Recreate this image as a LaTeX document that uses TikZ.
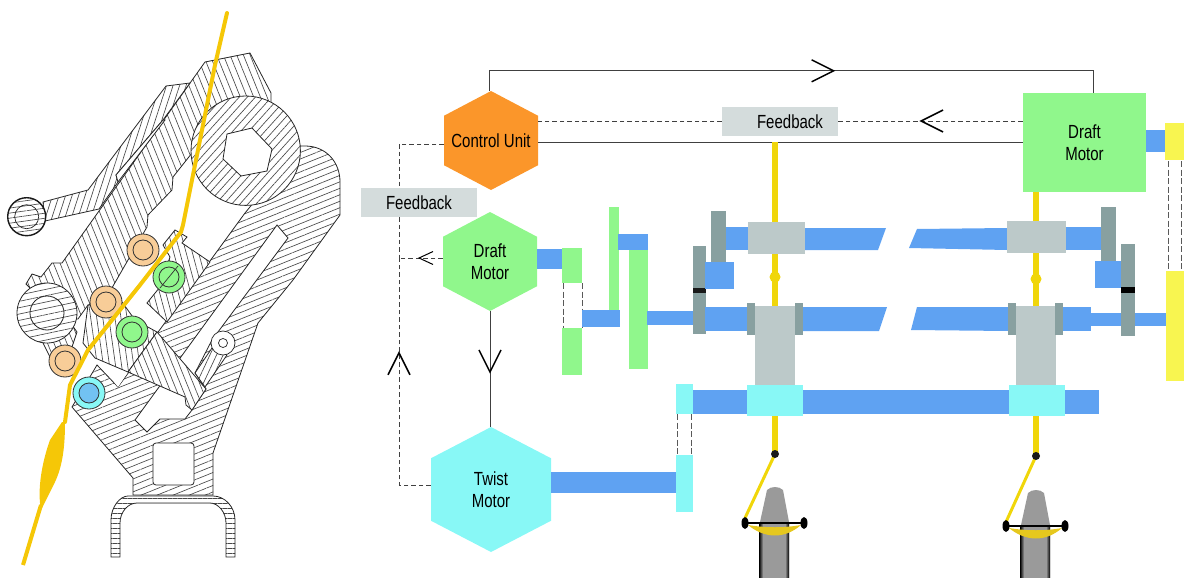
\documentclass[tikz,border=0pt]{standalone}
\usepackage{fontspec}
\setmainfont{Liberation Sans}[FakeStretch=0.79]
\usetikzlibrary{calc,arrows.meta,patterns.meta,decorations.markings}

\definecolor{shaftblue}{HTML}{5FA2F2}
\definecolor{geargreen}{HTML}{90F78C}
\definecolor{twistcyan}{HTML}{88F8F6}
\definecolor{gearteal}{HTML}{88A0A0}
\definecolor{boxgray}{HTML}{BCC9C9}
\definecolor{labelgray}{HTML}{D4DCDC}
\definecolor{unitorange}{HTML}{FB962A}
\definecolor{rollyellow}{HTML}{F8F550}
\definecolor{yarnyellow}{HTML}{F0D60A}
\definecolor{sliveryarn}{HTML}{F5C707}
\definecolor{rollorange}{HTML}{F8CD98}
\definecolor{rollblue}{HTML}{72C2F2}
\definecolor{spindlegray}{HTML}{9A9A9A}
\definecolor{crescent}{HTML}{E6C81E}

\tikzset{
  hexnode/.style={minimum width=#1, inner sep=0pt, align=center, font=\fontsize{19}{21.5}\selectfont},
  hexfill/.style={path picture={\fill[#1]
    (path picture bounding box.north)
    -- ($(path picture bounding box.north east)!0.25!(path picture bounding box.south east)$)
    -- ($(path picture bounding box.north east)!0.75!(path picture bounding box.south east)$)
    -- (path picture bounding box.south)
    -- ($(path picture bounding box.north west)!0.75!(path picture bounding box.south west)$)
    -- ($(path picture bounding box.north west)!0.25!(path picture bounding box.south west)$)
    -- cycle;}},
  feedbox/.style={fill=labelgray, minimum width=116pt, minimum height=29pt, inner sep=0pt, font=\fontsize{19}{21.5}\selectfont},
  wire/.style={draw=black!75, line width=0.9pt},
  dashwire/.style={wire, dash pattern=on 4.5pt off 3pt},
  linkdash/.style={draw=black!65, line width=1pt, dash pattern=on 6pt off 2.5pt},
  bigbarb/.style={postaction={decorate, decoration={markings,
    mark=at position #1 with {\arrow[black]{Straight Barb[length=22pt,width=22pt,line width=1.5pt]}}}}},
  smallbarb/.style={postaction={decorate, decoration={markings,
    mark=at position #1 with {\arrow[black]{Straight Barb[length=14pt,width=13pt,line width=1pt]}}}}},
  hatchpart/.style n args={2}{preaction={fill=white}, draw=black!85, line width=0.8pt,
    pattern={Lines[angle=#1,distance=#2,line width=0.65pt]}, pattern color=black!72},
  roller/.style={draw=black!80, line width=0.8pt, fill=#1},
  yarn/.style={draw=sliveryarn, line width=4pt, line cap=round, line join=round},
  feedyarn/.style={draw=yarnyellow, line width=6pt}
}

\begin{document}
\begin{tikzpicture}[x=1pt,y=-1pt]
  \useasboundingbox (0,0) rectangle (1184,578);

  % drafting head, cut-away
  \draw[hatchpart={22}{6pt}] (245,213) -- (300,146) -- (305,146) .. controls (326,146) and (340,162) .. (340,182)
    -- (340,215) -- (293,280) -- (258,323) -- (213,453) -- (213,495) -- (133,495) -- (133,478) -- (72,407) -- (97,365)
    -- (118,387) -- cycle;
  \fill[white,draw=black!85,line width=0.8pt] (277,225) -- (288,238) -- (212,340) -- (195,373) -- (206,389) -- (192,410)
    -- (185,419) -- (160,419) -- (147,432) -- (135,420) -- cycle;
  \draw[hatchpart={65}{6pt}] (212,348) -- (195,373) -- (205,387) -- (227,355) -- cycle;
  \draw[fill=white,draw=black!85,line width=0.8pt,rounded corners=3pt] (153,443) rectangle (194,485);
  \draw[hatchpart={0}{5pt}] (111,557) -- (111,520) .. controls (111,507) and (120,496) .. (128,496) -- (213,496)
    .. controls (225,496) and (235,507) .. (235,520) -- (235,557) -- (226,557) -- (226,523)
    .. controls (226,512) and (218,503) .. (210,503) -- (137,503) .. controls (128,503) and (120,512) .. (120,523)
    -- (120,557) -- cycle;
  % main lever and upper arm
  \draw[hatchpart={-68}{6.2pt}] (205,62) -- (250,53) -- (271,93) -- (271,130) -- (192,153) -- (173,177) -- (172,190)
    -- (148,215) -- (147,227) -- (105,300) -- (88,305) -- (78,319) -- (60,320) -- (47,305) -- (26,284) -- (32,274)
    -- (41,277) -- (52,263) -- (62,263) -- cycle;
  \draw[hatchpart={72}{6.2pt}] (43,202) -- (88,190) -- (166,86) -- (190,83) -- (163,120) -- (116,175) -- (118,182)
    -- (99,209) -- (45,221) -- cycle;
  \draw[fill=white,draw=black!85,line width=0.8pt] (116,175) -- (163,120) -- (165,120) -- (118,182) -- cycle;
  % rocking plate
  \fill[white] (100,363) -- (118,387) -- (128,372) -- cycle;
  \draw[hatchpart={-82}{6pt}] (88,305) -- (122,302) -- (135,320) -- (157,332) -- (128,372) -- (95,358) -- (83,343) -- cycle;
  \draw[hatchpart={-68}{6pt}] (157,332) -- (206,389) -- (192,410) -- (186,405) -- (185,397) -- (128,372) -- cycle;
  \draw[hatchpart={-75}{6pt}] (175,230) -- (187,237) -- (182,243) -- (210,262) -- (167,322) -- (147,303) -- (160,287)
    -- (170,257) -- (163,245) -- cycle;
  \draw[hatchpart={-68}{6pt}] (43,343) -- (72,325) -- (77,332) -- (72,347) -- (50,357) -- cycle;

  \draw[hatchpart={48}{6pt}] (245.7,150.7) circle (54.7);
  \draw[fill=white,draw=black!85,line width=0.8pt] (252,128) -- (272,149) -- (267,171) -- (241,176) -- (223,159) -- (227,134) -- cycle;
  \draw[hatchpart={12}{6.2pt}] (47,313) circle (30);
  \draw[draw=black!85,line width=0.8pt] (47,313) circle (17);
  \draw[hatchpart={8}{5pt},line width=1.4pt,draw=black!90] (26.7,216.7) circle (19);
  \draw[draw=black!85,line width=0.7pt] (26.7,216.7) circle (12);
  \draw[fill=white,draw=black!85,line width=0.7pt] (223,343) circle (12);
  \draw[draw=black!85,line width=0.7pt] (223,343) circle (4.5);

  % rollers
  \foreach \rx/\ry in {143/250,106/302,65/361} {
    \draw[roller=rollorange] (\rx,\ry) circle (16);
    \draw[draw=black!80,line width=0.8pt] (\rx,\ry) circle (10);
  }
  \foreach \rx/\ry in {169/277,132/332} {
    \draw[roller=geargreen] (\rx,\ry) circle (16);
    \draw[draw=black!80,line width=0.8pt] (\rx,\ry) circle (10);
  }
  \draw[draw=black!80,line width=0.7pt] (160,288) -- (178,266);
  \draw[roller=twistcyan] (89,393) circle (16);
  \draw[roller=rollblue] (89,393) circle (10);

  % yarn
  \draw[yarn] (227,13) -- (215,65) -- (195,165) -- (183,225) -- (181,232) -- (140,285) -- (88,350) -- (70,385) -- (65,422);
  \draw[yarn, line cap=butt] (41,505) -- (23,565);
  \fill[sliveryarn] (62,422) -- (65,422) .. controls (65,445) and (63,465) .. (55,482) -- (41,510) .. controls (37,490) and (42,462) .. (50,440) -- cycle;

  % motors and labels
  \node[hexnode=94pt, minimum height=99pt, hexfill=unitorange] (ctrl) at (491,140.5) {Control Unit};
  \node[hexnode=94pt, minimum height=99pt, hexfill=geargreen] (draftL) at (490,261.5) {Draft\\Motor};
  \node[hexnode=120pt, minimum height=125pt, hexfill=twistcyan] (twist) at (491,489.5) {Twist\\Motor};
  \node[hexnode=123pt, minimum height=99pt, fill=geargreen] (draftR) at (1084.5,142.5) {Draft\\Motor};
  \node[feedbox] (fbTop) at (780,121.5) {\hspace*{20pt}Feedback};
  \node[feedbox] (fbLeft) at (419,202.5) {Feedback};
  \coordinate (fbCorner) at (399,144);
  \coordinate (fbJoin) at (399,258);

  % connectors
  \draw[wire, bigbarb=0.567] ([xshift=-2pt]ctrl.north) -- ++(0,-20) -| ([xshift=8.5pt]draftR.north);
  \draw[wire] (draftR.west) -- (draftR.west -| ctrl.east);
  \draw[dashwire, bigbarb=0.56] ([yshift=21.5pt]draftR.west) -- (fbTop.east |- 0,121);
  \draw[dashwire] (fbTop.west |- 0,121) -- (538,121);
  \draw[dashwire] (fbCorner -| ctrl.west) -- (fbCorner) -- (fbCorner |- fbLeft.north);
  \draw[dashwire] (fbCorner |- fbLeft.south) -- (fbJoin);
  \draw[dashwire, bigbarb=0.64] (twist.west |- 0,485) -- (399,485) -- (fbJoin);
  \draw[dashwire, smallbarb=0.57] (fbJoin -| draftL.west) -- (fbJoin);
  \draw[wire, bigbarb=0.54] (draftL.south) -- (draftL.south |- twist.north);

  % left gear train
  \fill[shaftblue] (537,249) rectangle (562,269);
  \fill[geargreen] (562,248) rectangle (582,283);
  \fill[geargreen] (562,328) rectangle (582,375);
  \draw[linkdash] (563,283) -- (563,328) (582,283) -- (582,328);
  \fill[geargreen] (609,207) rectangle (619,310);
  \fill[shaftblue] (582,310) rectangle (620,327);
  \fill[shaftblue] (618,234) rectangle (648,250);
  \fill[geargreen] (629,250) rectangle (648,369);
  \fill[shaftblue] (647,311) rectangle (693,325);

  % feed yarn
  \draw[feedyarn] (775,142) -- (775,454);
  \draw[feedyarn] (1036,192) -- (1036,456);
  \fill[yarnyellow] (775,277) circle (5.5) (1036,279) circle (5.5);

  % drafting rollers left
  \fill[gearteal] (693,246) rectangle (706,334);
  \fill[black!90] (693,288) rectangle (706,293);
  \fill[gearteal] (711,211) rectangle (726,262);
  \fill[shaftblue] (705,262) rectangle (734,289);
  \fill[shaftblue] (726,227) rectangle (748,250);
  \fill[shaftblue] (804,228) -- (886,228) -- (878,250) -- (804,250) -- cycle;
  \fill[boxgray] (748,222) rectangle (805,254);
  \fill[shaftblue] (705,307) rectangle (747,331);
  \fill[shaftblue] (803,307) -- (887,307) -- (879,331) -- (803,331) -- cycle;
  \fill[boxgray] (755,306) rectangle (795,385);
  \fill[gearteal] (747,303) rectangle (755,335);
  \fill[gearteal] (795,303) rectangle (803,335);

  % drafting rollers right
  \fill[shaftblue] (917,229) -- (1007,228) -- (1007,250) -- (909,248) -- cycle;
  \fill[boxgray] (1007,221) rectangle (1066,253);
  \fill[shaftblue] (1066,227) rectangle (1101,250);
  \fill[gearteal] (1101,207) rectangle (1116,261);
  \fill[shaftblue] (1095,261) rectangle (1121,288);
  \fill[gearteal] (1121,244) rectangle (1135,336);
  \fill[black] (1121,287) rectangle (1135,293);
  \fill[shaftblue] (917,307) -- (1008,307) -- (1008,331) -- (911,330) -- cycle;
  \fill[shaftblue] (1062,307) rectangle (1091,331);
  \fill[shaftblue] (1091,313) rectangle (1121,326);
  \fill[shaftblue] (1135,313) rectangle (1166,326);
  \fill[boxgray] (1016,306) rectangle (1056,386);
  \fill[gearteal] (1008,303) rectangle (1016,335);
  \fill[gearteal] (1055,303) rectangle (1063,335);

  % right gear pair
  \fill[shaftblue] (1146,130) rectangle (1165,152);
  \fill[rollyellow] (1165,123) rectangle (1184,160);
  \fill[rollyellow] (1166,271) rectangle (1184,381);
  \draw[linkdash] (1168,161) -- (1168,271) (1181,161) -- (1181,271);

  % twist shaft
  \fill[shaftblue] (693,390) rectangle (1099,414);
  \fill[twistcyan] (676,384) rectangle (693,414);
  \fill[twistcyan] (747,385) rectangle (803,416);
  \fill[twistcyan] (1009,385) rectangle (1065,416);
  \draw[linkdash] (677,414) -- (677,455) (691,414) -- (691,455);
  \fill[shaftblue] (twist.east |- 0,472) rectangle (676,493);
  \fill[twistcyan] (676,455) rectangle (693,512);

  % spindles
  \foreach \sx/\sy/\tx in {775/0/745,1036/3/1006} {
    \draw[draw=yarnyellow, line width=3pt] (\sx,454+\sy*0.66) -- (\tx,518+\sy*1.33);
    \fill[black!90] (\sx,454+\sy*0.66) circle (4);
    \fill[spindlegray] (\sx-8,490+\sy) .. controls (\sx-4,486+\sy) and (\sx+4,486+\sy) .. (\sx+8,490+\sy) -- (\sx+14,522+\sy)
      -- (\sx+14,578) -- (\sx-15,578) -- (\sx-15,522+\sy) -- cycle;
    \shade[left color=black, right color=spindlegray] (\sx-16,522+\sy) rectangle (\sx-12,578);
    \shade[left color=spindlegray, right color=black] (\sx+10,522+\sy) rectangle (\sx+14,578);
    \fill[crescent] (\sx-27,525+\sy) .. controls (\sx-10,539+\sy) and (\sx+10,539+\sy) .. (\sx+26,525+\sy)
      .. controls (\sx+10,528+\sy) and (\sx-10,528+\sy) .. (\sx-27,525+\sy) -- cycle;
    \draw[black, line width=2.5pt] (\sx-30,523+\sy) -- (\sx+29,523+\sy);
    \fill[black] (\sx-30,523+\sy) ellipse (3.5 and 6) (\sx+29,523+\sy) ellipse (3.5 and 6);
  }
\end{tikzpicture}
\end{document}
